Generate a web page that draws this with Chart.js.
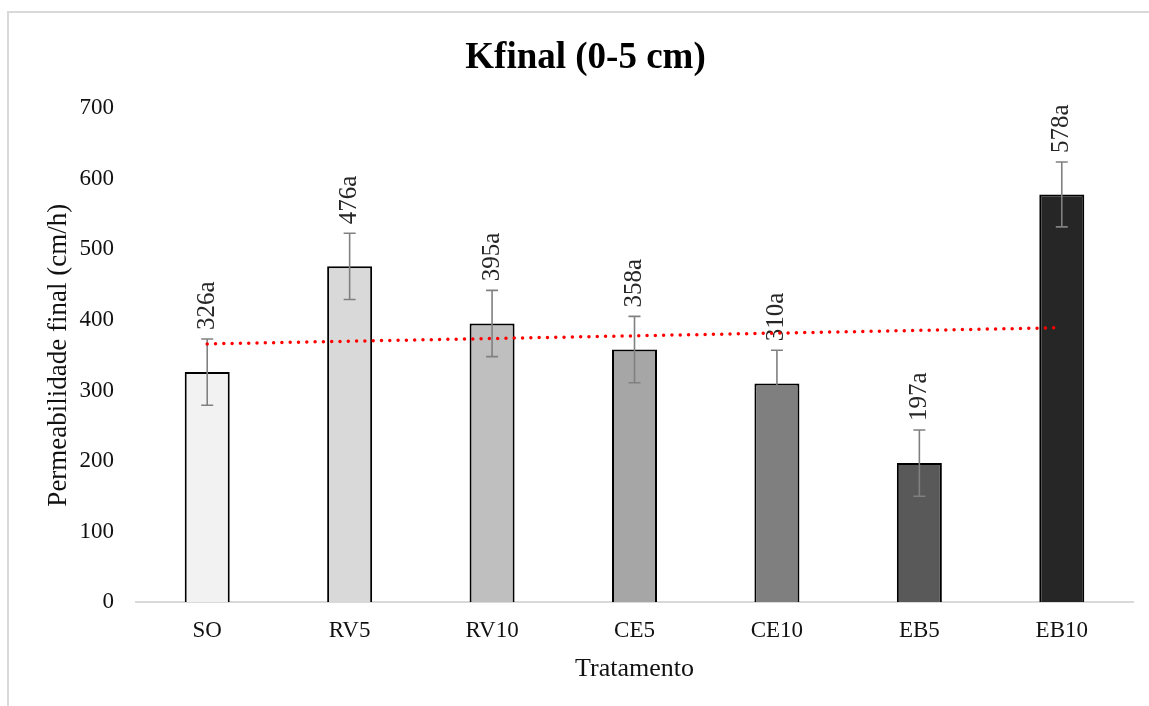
<!DOCTYPE html>
<html>
<head>
<meta charset="utf-8">
<script src="https://cdn.jsdelivr.net/npm/chart.js@4"></script>
<style>
  body { margin: 0; background: #fff; }
  #wrap { width: 1149px; height: 706px; }
</style>
</head>
<body>
<div id="wrap"><canvas id="kfinalChart" width="1149" height="706"></canvas></div>
<script>
const categories = ['SO', 'RV5', 'RV10', 'CE5', 'CE10', 'EB5', 'EB10'];
const kfinal = [326, 476, 395, 358, 310, 197, 578];
const kfinalError = [47, 47, 47, 47, 47, 47, 46];
const letters = ['a', 'a', 'a', 'a', 'a', 'a', 'a'];
const barColors = ['#f2f2f2', '#d9d9d9', '#bfbfbf', '#a6a6a6', '#7f7f7f', '#595959', '#262626'];
// linear trend line: only the two ends
const trendValues = [366, null, null, null, null, null, 389];

const serif = "'Liberation Serif', 'Times New Roman', serif";

const framePlugin = {
  id: 'frame',
  beforeDraw(chart) {
    const ctx = chart.ctx;
    ctx.save();
    ctx.strokeStyle = '#d9d9d9';
    ctx.lineWidth = 2;
    ctx.beginPath();
    ctx.moveTo(8, 706);
    ctx.lineTo(8, 12);
    ctx.lineTo(1149, 12);
    ctx.stroke();
    ctx.restore();
  },
};

const errorBarPlugin = {
  id: 'errorBars',
  afterDatasetDraw(chart, args) {
    if (args.index !== 0) return;
    const ctx = chart.ctx;
    const y = chart.scales.y;
    const meta = chart.getDatasetMeta(0);
    ctx.save();
    meta.data.forEach((bar, i) => {
      const top = y.getPixelForValue(kfinal[i] + kfinalError[i]);
      const bottom = y.getPixelForValue(kfinal[i] - kfinalError[i]);
      ctx.strokeStyle = '#808080';
      ctx.lineWidth = 1.6;
      ctx.beginPath();
      ctx.moveTo(bar.x, top);
      ctx.lineTo(bar.x, bottom);
      ctx.moveTo(bar.x - 6, top);
      ctx.lineTo(bar.x + 6, top);
      ctx.moveTo(bar.x - 6, bottom);
      ctx.lineTo(bar.x + 6, bottom);
      ctx.stroke();

      // rotated value label above the error bar
      ctx.save();
      ctx.translate(bar.x, top - 9);
      ctx.rotate(-Math.PI / 2);
      ctx.fillStyle = '#262626';
      ctx.font = `25px ${serif}`;
      ctx.textAlign = 'left';
      ctx.textBaseline = 'middle';
      ctx.fillText(kfinal[i] + letters[i], 0, 0);
      ctx.restore();
    });
    ctx.restore();
  },
};

new Chart(document.getElementById('kfinalChart'), {
  data: {
    labels: categories,
    datasets: [
      {
        type: 'bar',
        label: 'Kfinal',
        data: kfinal,
        backgroundColor: barColors,
        borderColor: '#000',
        borderWidth: 2,
        borderSkipped: 'bottom',
        categoryPercentage: 1,
        barPercentage: 0.316,
        order: 2,
      },
      {
        type: 'line',
        label: 'Linear',
        data: trendValues,
        spanGaps: true,
        borderColor: '#ff0000',
        borderWidth: 3.5,
        borderDash: [0, 8.3],
        borderCapStyle: 'round',
        pointRadius: 0,
        fill: false,
        order: 1,
      },
    ],
  },
  options: {
    responsive: false,
    animation: false,
    layout: { padding: { top: 12, left: 38, right: 16, bottom: 0 } },
    plugins: {
      legend: { display: false },
      tooltip: { enabled: false },
      title: {
        display: true,
        text: 'Kfinal (0-5 cm)',
        color: '#000',
        font: { family: serif, size: 37, weight: 'bold' },
        padding: { top: 24, bottom: 28 },
      },
    },
    scales: {
      x: {
        grid: { display: false, drawTicks: false },
        border: { display: true, color: '#d9d9d9', width: 2 },
        ticks: { color: '#111', font: { family: serif, size: 23 }, padding: 15 },
        title: {
          display: true,
          text: 'Tratamento',
          color: '#111',
          font: { family: serif, size: 26 },
          padding: { top: 0, bottom: 21 },
        },
        afterFit(scale) { scale.height = 104; },
      },
      y: {
        min: 0,
        max: 700,
        grid: { display: false, drawTicks: false },
        border: { display: false },
        ticks: { stepSize: 100, color: '#111', font: { family: serif, size: 23 }, padding: 22 },
        title: {
          display: true,
          text: 'Permeabilidade final (cm/h)',
          color: '#111',
          font: { family: serif, size: 27 },
          padding: { top: 5, bottom: 0 },
        },
        afterFit(scale) { scale.width = 98; },
      },
    },
  },
  plugins: [framePlugin, errorBarPlugin],
});
</script>
</body>
</html>
